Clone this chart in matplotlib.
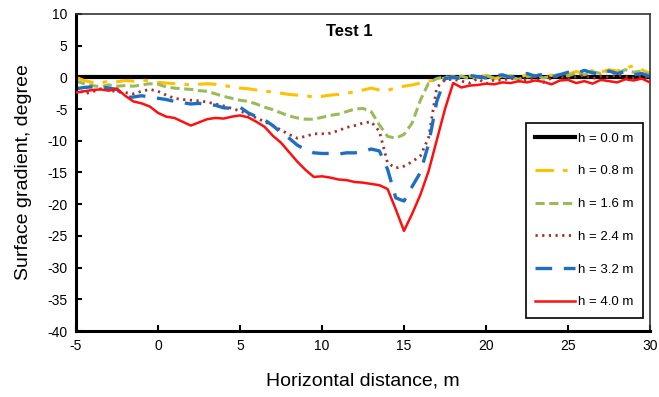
import numpy as np
import matplotlib
matplotlib.use('Agg')
import matplotlib.pyplot as plt

# horizontal distance, m (every 0.5 m)
dist = np.arange(-5, 30.01, 0.5)

labels = ['h = 0.0 m', 'h = 0.8 m', 'h = 1.6 m', 'h = 2.4 m', 'h = 3.2 m', 'h = 4.0 m']

h00 = [0.0] * 71

h08 = [0.0, -0.5, -0.8, -0.9, -0.6, -0.7, -0.5, -0.6, -0.4, -0.6,
       -0.8, -0.9, -1.0, -1.1, -1.2, -1.1, -1.0, -1.1, -1.3, -1.5,
       -1.7, -1.8, -2.0, -2.2, -2.3, -2.5, -2.7, -2.8, -2.9, -3.1,
       -3.0, -2.8, -2.7, -2.5, -2.3, -2.0, -1.7, -2.0, -2.1, -1.6,
       -1.4, -1.2, -0.9, -0.6, -0.4, -0.1, 0.1, -0.2, 0.2, 0.0,
       0.3, -0.2, 0.1, 0.3, 0.0, 0.4, 0.2, 0.6, 0.3, 0.7,
       0.5, 0.9, 0.6, 1.1, 0.8, 1.2, 1.0, 1.5, 1.8, 1.2,
       0.6]

h16 = [-0.6, -1.0, -1.3, -1.5, -1.2, -1.4, -1.3, -1.4, -1.2, -1.0,
       -1.1, -1.5, -1.7, -1.8, -1.9, -2.1, -2.2, -2.6, -3.0, -3.3,
       -3.6, -3.8, -4.2, -4.7, -5.1, -5.6, -6.1, -6.4, -6.6, -6.6,
       -6.3, -6.0, -5.8, -5.4, -5.0, -4.9, -5.4, -7.5, -9.3, -9.6,
       -9.0, -7.2, -3.6, -0.9, -0.2, 0.1, -0.1, 0.2, -0.2, 0.0,
       0.3, -0.1, 0.2, 0.0, -0.3, 0.1, 0.3, -0.1, 0.2, 0.5,
       0.2, 0.7, 0.4, 0.9, 0.6, 1.0, 0.7, 1.2, 0.8, 1.0,
       0.3]

h24 = [-1.5, -2.6, -2.3, -1.8, -2.0, -2.3, -2.4, -2.6, -2.2, -1.9,
       -2.2, -2.8, -3.3, -3.5, -3.6, -3.7, -3.9, -4.2, -4.5, -4.9,
       -5.3, -5.8, -6.4, -7.0, -7.6, -8.3, -9.0, -9.6, -9.3, -8.9,
       -8.9, -8.8, -8.4, -7.9, -7.6, -7.2, -7.0, -8.5, -13.5, -14.3,
       -14.0, -13.3, -12.4, -9.5, -1.6, -0.4, -0.3, -0.6, -0.9, -0.2,
       -1.0, -0.4, -0.5, -0.1, -0.6, -0.3, -0.2, -0.8, -0.1, 0.2,
       -0.3, 0.1, 0.3, -0.2, 0.2, 0.0, 0.4, 0.1, -0.1, 0.2,
       -0.2]

h32 = [-1.8, -1.6, -1.5, -1.5, -1.7, -1.9, -3.2, -3.1, -2.9, -3.1,
       -3.3, -3.5, -3.8, -4.0, -4.2, -4.1, -4.3, -4.4, -4.8, -4.9,
       -4.7, -5.6, -6.2, -6.7, -7.6, -8.7, -9.6, -10.7, -11.4, -11.9,
       -12.0, -12.0, -12.1, -11.9, -11.9, -11.7, -11.3, -11.6, -14.5, -19.0,
       -19.5, -17.2, -15.0, -10.5, -3.8, -0.2, 0.0, -0.2, 0.3, 0.1,
       -0.1, 0.2, 0.4, 0.0, 0.3, 0.6, 0.2, 0.5, 0.0, 0.4,
       0.8, 0.6, 1.1, 0.7, 0.5, 1.0, 0.6, 0.9, 0.4, 0.6,
       0.1]

h40 = [-2.4, -2.2, -2.0, -1.9, -2.1, -1.8, -2.9, -3.8, -4.1, -4.6,
       -5.6, -6.2, -6.4, -7.0, -7.6, -7.1, -6.6, -6.4, -6.5, -6.2,
       -6.0, -6.3, -7.0, -7.8, -9.2, -10.3, -11.8, -13.3, -14.6, -15.7,
       -15.6, -15.8, -16.1, -16.2, -16.5, -16.6, -16.8, -17.0, -17.6, -20.8,
       -24.2, -21.5, -18.5, -14.8, -9.9, -5.0, -0.9, -1.6, -1.3, -1.2,
       -1.0, -1.1, -0.8, -0.9, -0.6, -0.8, -0.5, -0.7, -1.1, -0.5,
       -0.4, -0.9, -0.6, -1.0, -0.4, -0.6, -0.8, -0.3, -0.5, -0.2,
       -0.8]

plt.rcParams['font.family'] = ['Liberation Sans', 'DejaVu Sans']
plt.rcParams['axes.unicode_minus'] = False

fig = plt.figure(figsize=(6.59, 3.97), dpi=100)
ax = fig.add_axes([0.1153, 0.166, 0.871, 0.799])

ax.plot(dist, h00, color='black', lw=3, label=labels[0], zorder=1)
ax.plot(dist, h08, color='#FFC000', lw=2.2, dashes=(6, 3, 1.5, 3), label=labels[1], zorder=2)
ax.plot(dist, h16, color='#9BBB59', lw=2.2, dashes=(3, 1.5), label=labels[2], zorder=2)
ax.plot(dist, h24, color='#A5312B', lw=2.0, dashes=(0.8, 1.6), label=labels[3], zorder=2)
ax.plot(dist, h32, color='#1F6FC0', lw=2.4, dashes=(5, 3.5), label=labels[4], zorder=2)
ax.plot(dist, h40, color='#FF1010', lw=1.8, label=labels[5], zorder=3)

ax.set_xlim(-5, 30)
ax.set_ylim(-40, 10)
ax.set_xticks(range(-5, 31, 5))
ax.set_yticks(range(-40, 11, 5))
ax.tick_params(direction='in', length=4, width=1.5, labelsize=10, pad=6)

for s in ['left', 'bottom']:
    ax.spines[s].set_linewidth(2.2)
for s in ['top', 'right']:
    ax.spines[s].set_linewidth(1.2)
    ax.spines[s].set_color('#333333')

ax.set_xlabel('Horizontal distance, m', fontsize=14, labelpad=14)
ax.set_ylabel('Surface gradient, degree', fontsize=14, labelpad=11)
ax.text(0.477, 0.945, 'Test 1', transform=ax.transAxes, ha='center', va='center',
        fontsize=12, fontweight='bold')

leg = ax.legend(loc='lower right', bbox_to_anchor=(0.988, 0.041), borderaxespad=0,
                fontsize=9.5, handlelength=3.0, labelspacing=1.55, handletextpad=0.2,
                fancybox=False, framealpha=1, edgecolor='black', borderpad=0.75)
leg.get_frame().set_linewidth(1.2)

fig.savefig('out.png', dpi=100)
